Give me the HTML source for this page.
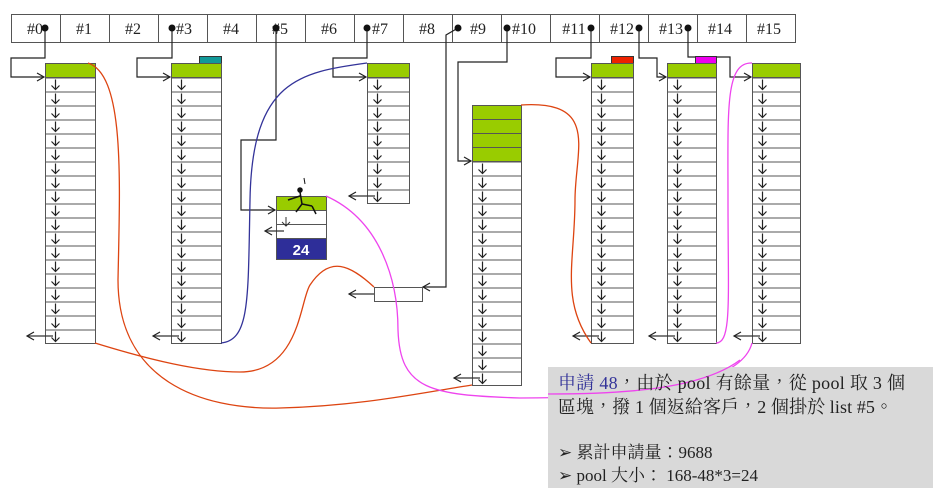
<!DOCTYPE html>
<html><head><meta charset="utf-8"><style>
html,body{margin:0;padding:0;background:#fff;width:950px;height:501px;overflow:hidden}
svg{display:block}
.t{font-family:"Liberation Serif","Noto Serif CJK SC",serif;font-size:16px;fill:#222}
</style></head><body>
<svg width="950" height="501" viewBox="0 0 950 501" xmlns="http://www.w3.org/2000/svg">
<defs>
<pattern id="cp" patternUnits="userSpaceOnUse" x="0" y="0" width="60" height="14">
<rect width="60" height="14" fill="#fff"/>
<line x1="0" y1="0.5" x2="60" y2="0.5" stroke="#555" stroke-width="1"/>
<line x1="10" y1="2" x2="10" y2="12" stroke="#222" stroke-width="1.2"/>
<polyline points="6,8 10,12 14,8" fill="none" stroke="#222" stroke-width="1.2"/>
</pattern>
<marker id="ar" markerWidth="10" markerHeight="10" refX="8" refY="5" orient="auto" markerUnits="userSpaceOnUse">
<polyline points="1,1 8,5 1,9" fill="none" stroke="#222" stroke-width="1.2"/>
</marker>
</defs>

<g stroke="#555" stroke-width="1" fill="#fff">
<rect x="11.5" y="14.5" width="784" height="28"/>
<line x1="60.5" y1="14" x2="60.5" y2="42"/><line x1="109.5" y1="14" x2="109.5" y2="42"/>
<line x1="158.5" y1="14" x2="158.5" y2="42"/><line x1="207.5" y1="14" x2="207.5" y2="42"/>
<line x1="256.5" y1="14" x2="256.5" y2="42"/><line x1="305.5" y1="14" x2="305.5" y2="42"/>
<line x1="354.5" y1="14" x2="354.5" y2="42"/><line x1="403.5" y1="14" x2="403.5" y2="42"/>
<line x1="452.5" y1="14" x2="452.5" y2="42"/><line x1="501.5" y1="14" x2="501.5" y2="42"/>
<line x1="550.5" y1="14" x2="550.5" y2="42"/><line x1="599.5" y1="14" x2="599.5" y2="42"/>
<line x1="648.5" y1="14" x2="648.5" y2="42"/><line x1="697.5" y1="14" x2="697.5" y2="42"/>
<line x1="746.5" y1="14" x2="746.5" y2="42"/>
</g>
<g class="t" text-anchor="middle">
<text x="35" y="34">#0</text><text x="84" y="34">#1</text><text x="133" y="34">#2</text>
<text x="184" y="34">#3</text><text x="231" y="34">#4</text><text x="280" y="34">#5</text>
<text x="329" y="34">#6</text><text x="380" y="34">#7</text><text x="427" y="34">#8</text>
<text x="478" y="34">#9</text><text x="524" y="34">#10</text><text x="574" y="34">#11</text>
<text x="622" y="34">#12</text><text x="671" y="34">#13</text><text x="720" y="34">#14</text>
<text x="769" y="34">#15</text>
</g>

<g fill="none" stroke="#222" stroke-width="1.2">
<polyline points="45,28 45,58 11,58 11,77 44,77" marker-end="url(#ar)"/>
<polyline points="172,28 172,58 137,58 137,77 170,77" marker-end="url(#ar)"/>
<polyline points="367,28 367,58 333,58 333,77 366,77" marker-end="url(#ar)"/>
<polyline points="276,28 276,140 241,140 241,210 275,210" marker-end="url(#ar)"/>
<polyline points="458,28 446,35 446,287 423,287" marker-end="url(#ar)"/>
<polyline points="507,28 507,62 458,62 458,161 471,161" marker-end="url(#ar)"/>
<polyline points="591,28 591,58 556,58 556,77 590,77" marker-end="url(#ar)"/>
<polyline points="639,28 639,58 657,58 657,77 666,77" marker-end="url(#ar)"/>
<polyline points="688,28 688,57 730,57 730,77 751,77" marker-end="url(#ar)"/>
</g>
<g fill="#111">
<circle cx="45" cy="28" r="3.5"/><circle cx="172" cy="28" r="3.5"/><circle cx="276" cy="28" r="3.5"/>
<circle cx="367" cy="28" r="3.5"/><circle cx="458" cy="28" r="3.5"/><circle cx="507" cy="28" r="3.5"/>
<circle cx="591" cy="28" r="3.5"/><circle cx="639" cy="28" r="3.5"/><circle cx="688" cy="28" r="3.5"/>
</g>

<rect x="199.5" y="56.5" width="22" height="7" fill="#119999" stroke="#333"/>
<rect x="611.5" y="56.5" width="22" height="7" fill="#ee2200" stroke="#333"/>
<rect x="695.5" y="56.5" width="21" height="7" fill="#ee00ee" stroke="#333"/>

<g stroke="#555" stroke-width="1">
<g transform="translate(45.5,63.5)">
<rect width="50" height="14" fill="#99cc00"/><rect y="14" width="50" height="266" fill="url(#cp)"/>
</g>
<g transform="translate(171.5,63.5)">
<rect width="50" height="14" fill="#99cc00"/><rect y="14" width="50" height="266" fill="url(#cp)"/>
</g>
<g transform="translate(367.5,63.5)">
<rect width="42" height="14" fill="#99cc00"/><rect y="14" width="42" height="126" fill="url(#cp)"/>
</g>
<g transform="translate(472.5,105.5)">
<rect width="49" height="14" fill="#99cc00"/><rect y="14" width="49" height="14" fill="#99cc00"/>
<rect y="28" width="49" height="14" fill="#99cc00"/><rect y="42" width="49" height="14" fill="#99cc00"/>
<rect y="56" width="49" height="224" fill="url(#cp)"/>
</g>
<g transform="translate(591.5,63.5)">
<rect width="42" height="14" fill="#99cc00"/><rect y="14" width="42" height="266" fill="url(#cp)"/>
</g>
<g transform="translate(667.5,63.5)">
<rect width="49" height="14" fill="#99cc00"/><rect y="14" width="49" height="266" fill="url(#cp)"/>
</g>
<g transform="translate(752.5,63.5)">
<rect width="48" height="14" fill="#99cc00"/><rect y="14" width="48" height="266" fill="url(#cp)"/>
</g>
<rect x="276.5" y="196.5" width="50" height="14" fill="#99cc00"/>
<rect x="276.5" y="210.5" width="50" height="14" fill="#fff"/>
<rect x="276.5" y="224.5" width="50" height="14" fill="#fff"/>
<rect x="276.5" y="238.5" width="50" height="21" fill="#2e2e99"/>
<rect x="374.5" y="287.5" width="48" height="14" fill="#fff"/>
</g>
<text x="301" y="255" text-anchor="middle" font-family="Liberation Sans,sans-serif" font-weight="bold" font-size="15" fill="#fff">24</text>
<g stroke="#111" fill="none" stroke-width="1.5">
<circle cx="300" cy="190" r="2" fill="#111"/>
<path d="M300 192 L302 204 L312 206 M288 200 L300 196 M302 204 L296 212 M312 206 L316 214"/>
<path d="M305 184 L304 178" stroke-width="1"/>
</g>
<g fill="none" stroke="#333" stroke-width="1"><line x1="286" y1="217" x2="286" y2="226"/><polyline points="282,222 286,226 290,222"/></g>

<g fill="none" stroke="#333" stroke-width="1.2">
<line x1="53" y1="336" x2="27" y2="336" marker-end="url(#ar)"/>
<line x1="179" y1="336" x2="153" y2="336" marker-end="url(#ar)"/>
<line x1="375" y1="196" x2="349" y2="196" marker-end="url(#ar)"/>
<line x1="284" y1="231" x2="265" y2="231" marker-end="url(#ar)"/>
<line x1="374" y1="294" x2="349" y2="294" marker-end="url(#ar)"/>
<line x1="480" y1="378" x2="454" y2="378" marker-end="url(#ar)"/>
<line x1="599" y1="336" x2="573" y2="336" marker-end="url(#ar)"/>
<line x1="675" y1="336" x2="649" y2="336" marker-end="url(#ar)"/>
<line x1="760" y1="336" x2="734" y2="336" marker-end="url(#ar)"/>
</g>

<g fill="none" stroke-width="1.3">
<path d="M88,63 C125,75 120,180 118,280 C118,380 200,410 280,408 C360,406 420,393 472,385" stroke="#dd4411"/>
<path d="M95,343 C150,360 200,372 240,372 C300,372 300,300 310,285 C330,255 350,265 374,287" stroke="#dd4411"/>
<path d="M221,343 C250,340 248,300 250,200 C252,80 300,72 367,63" stroke="#333399"/>
<path d="M521,105 C600,100 575,150 575,200 C575,260 560,300 591,343" stroke="#dd4411"/>
<path d="M716,343 C732,343 728,300 728,200 C728,110 725,62 752,63" stroke="#ee44ee"/>
<path d="M326,196 C380,220 398,280 398,330 C400,390 430,395 520,398 C620,398 740,390 752,343" stroke="#ee44ee"/>
</g>

<rect x="548" y="367" width="385" height="121" fill="#d9d9d9"/>
<path d="M548,394 C620,394 700,390 740,360" fill="none" stroke="#ee44ee" stroke-width="1.3"/>
<g font-family="Liberation Serif,'Noto Serif CJK TC',serif" font-size="18" fill="#222">
<text x="558" y="389" textLength="347"><tspan fill="#333399">申請 48</tspan>，由於 pool 有餘量，從 pool 取 3 個</text>
<text x="558" y="413" textLength="335">區塊，撥 1 個返給客戶，2 個掛於 list #5。</text>
<text x="558" y="458" font-size="17">➢ 累計申請量：9688</text>
<text x="558" y="481" font-size="17">➢ pool 大小： 168-48*3=24</text>
</g>
</svg>
</body></html>
